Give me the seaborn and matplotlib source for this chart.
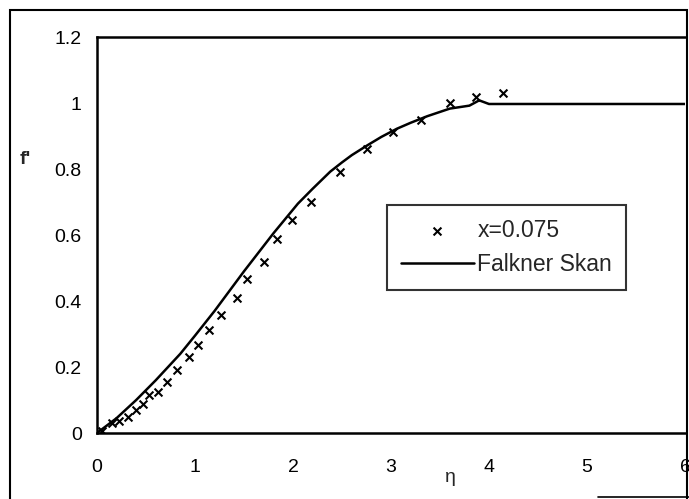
import matplotlib
matplotlib.use("Agg")
import matplotlib.pyplot as plt
import seaborn as sns
import pandas as pd
from matplotlib.lines import Line2D
from matplotlib.patches import Rectangle

# ---- data ----
eta_meas = [0.05, 0.15, 0.22, 0.32, 0.40, 0.47, 0.53, 0.62, 0.71, 0.82,
            0.94, 1.03, 1.14, 1.27, 1.43, 1.53, 1.70, 1.84, 1.99, 2.18,
            2.48, 2.75, 3.02, 3.31, 3.60, 3.87, 4.14]
fp_meas = [0.005, 0.03, 0.035, 0.05, 0.07, 0.088, 0.115, 0.124, 0.155, 0.19,
           0.23, 0.267, 0.312, 0.358, 0.41, 0.467, 0.518, 0.588, 0.645, 0.70,
           0.79, 0.86, 0.912, 0.948, 1.0, 1.018, 1.03]

eta_fs = [0.0, 0.2, 0.4, 0.6, 0.85, 1.0, 1.2, 1.5, 1.8, 2.05, 2.2, 2.38, 2.5,
          2.6, 2.76, 2.9, 3.06, 3.2, 3.37, 3.6, 3.8, 3.9, 4.0, 6.0]
fp_fs = [0.0, 0.045, 0.10, 0.16, 0.24, 0.295, 0.37, 0.49, 0.605, 0.695, 0.74,
         0.792, 0.82, 0.842, 0.872, 0.897, 0.922, 0.94, 0.96, 0.983, 0.992,
         1.008, 0.997, 0.997]

x_ticks = [0, 1, 2, 3, 4, 5, 6]
y_ticks = [0, 0.2, 0.4, 0.6, 0.8, 1.0, 1.2]
y_ticklabels = ["0", "0.2", "0.4", "0.6", "0.8", "1", "1.2"]
meas_label = "x=0.075"
fs_label = "Falkner Skan"

df_meas = pd.DataFrame({"eta": eta_meas, "fp": fp_meas})
df_fs = pd.DataFrame({"eta": eta_fs, "fp": fp_fs})

sns.set_theme(style="white")
plt.rcParams["font.family"] = ["Liberation Sans", "DejaVu Sans"]

W, H = 689, 499
fig = plt.figure(figsize=(W / 100, H / 100), dpi=100)
ax = fig.add_axes([97 / W, 1 - 433 / H, 588 / W, 396 / H])

sns.lineplot(data=df_fs, x="eta", y="fp", ax=ax, color="black", linewidth=1.8,
             label=fs_label, sort=False)
sns.scatterplot(data=df_meas, x="eta", y="fp", ax=ax, marker="x", color="black",
                s=32, linewidth=1.5, label=meas_label, zorder=3)

ax.set_xlim(0, 6)
ax.set_ylim(0, 1.2)
ax.set_xticks(x_ticks)
ax.set_xticklabels([str(t) for t in x_ticks])
ax.set_yticks(y_ticks)
ax.set_yticklabels(y_ticklabels)
ax.set_xlabel("")
ax.set_ylabel("")
ax.tick_params(axis="both", direction="out", length=5, width=1.5, color="black",
               labelsize=14, labelcolor="black", pad=6)
ax.tick_params(axis="x", pad=14)
for side in ["left", "bottom", "top"]:
    ax.spines[side].set_visible(True)
    ax.spines[side].set_color("black")
    ax.spines[side].set_linewidth(1.8)
ax.spines["right"].set_visible(False)

# legend: marker entry first, then the line
handles, labels = ax.get_legend_handles_labels()
order = [labels.index(meas_label), labels.index(fs_label)]
leg = ax.legend([handles[i] for i in order], [labels[i] for i in order],
                loc="upper left", bbox_to_anchor=(0.493, 0.576), borderaxespad=0,
                frameon=True, fancybox=False, edgecolor="black", fontsize=16.5,
                handlelength=3.2, handletextpad=0.15, borderpad=0.6,
                labelspacing=0.5, markerscale=1.0)
leg.get_frame().set_linewidth(1.5)

# axis titles as placed in the reference
fig.text(20 / W, 1 - 160 / H, "f'", fontsize=14, fontweight="bold",
         ha="left", va="center")
fig.text(450 / W, 1 - 478 / H, "η", fontsize=14, ha="center", va="center")

# outer frame of the scanned figure
fig.add_artist(Rectangle((10 / W, -0.05), 677 / W, 1 - 10 / H + 0.05,
                         transform=fig.transFigure, fill=False,
                         edgecolor="black", linewidth=1.5))
fig.add_artist(Line2D([598 / W, 1.0], [1 - 497 / H, 1 - 497 / H],
                      transform=fig.transFigure, color="black", linewidth=1.2))

fig.savefig("out.png", dpi=100)
